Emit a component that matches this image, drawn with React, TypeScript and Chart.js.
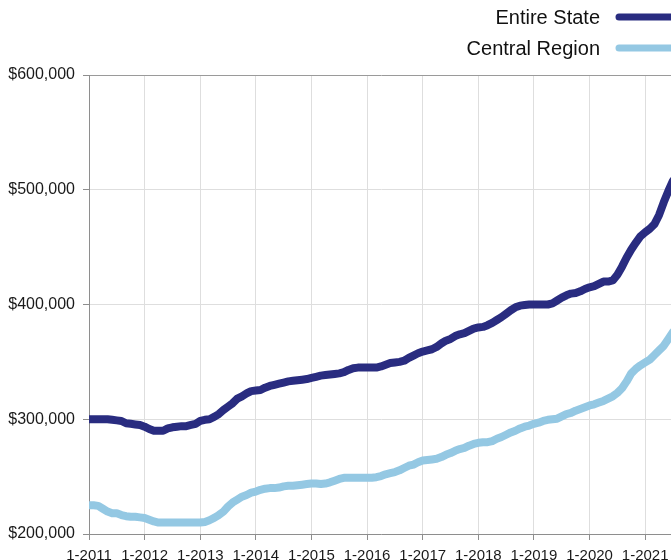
import React, { useEffect, useRef } from "react";
import { Chart, registerables } from "chart.js";

Chart.register(...registerables);

const startYear = 2011;

const seriesLabels = ["Entire State", "Central Region"];

// Monthly median values (thousands of $), Jan 2011 .. Jul 2021
const entireState = [
  300, 300, 300, 300, 300, 299.5, 299, 298.5, 296.5, 296, 295.5, 295,
  293.5, 291.5, 290, 290, 290, 292, 293, 293.5, 294, 294, 295, 296,
  298.5, 299.5, 300, 302, 304.5, 308, 311, 314, 318, 320, 322.5, 324.5,
  325, 325.5, 327.5, 329, 330, 331, 332, 333, 333.5, 334, 334.5, 335,
  336, 337, 338, 338.5, 339, 339.5, 340, 341, 343, 344.5, 345, 345,
  345, 345, 345, 346, 347.5, 349, 349.5, 350, 351, 353.5, 355.5, 357.5,
  359, 360, 361, 363, 366, 368.5, 370, 372.5, 374, 375, 377, 379,
  380, 380.5, 382, 384, 386.5, 389, 392, 395, 397.5, 399, 399.5, 400,
  400, 400, 400, 400, 401, 403.5, 406, 408, 409.5, 410, 411.5, 413.5,
  415, 416, 418, 420, 420, 421, 426, 433, 441, 448, 454, 459.5,
  463, 466, 470, 478, 489, 499, 508,
];

const centralRegion = [
  225, 225, 224.5, 222, 219.5, 218, 218, 216.5, 215.5, 215, 215, 214.5,
  214, 212.5, 211, 210, 210, 210, 210, 210, 210, 210, 210, 210,
  210, 210.5, 212, 214, 216.5, 219.5, 224, 227.5, 230, 232.5, 234, 236,
  237, 238.5, 239.5, 240, 240, 240.5, 241.5, 242, 242, 242.5, 243, 243.5,
  244, 244, 243.5, 244, 245, 246.5, 248, 249, 249, 249, 249, 249,
  249, 249, 249.5, 250.5, 252, 253, 254, 255.5, 257.5, 259.5, 260.5, 262.5,
  264, 264.5, 265, 265.5, 267, 269, 270.5, 272.5, 274, 275, 277, 278.5,
  279.5, 280, 280, 281, 283, 284.5, 286.5, 288.5, 290, 292, 293.5, 294.5,
  296, 297, 298.5, 299.5, 300, 300.5, 302.5, 304.5, 305.5, 307.5, 309, 310.5,
  312, 313, 314.5, 316, 318, 320, 323, 327, 333, 340, 344, 347,
  349.5, 352, 356, 360, 364, 370, 376,
];

const yTicks = [200000, 300000, 400000, 500000, 600000];

const colors = ["#292c80", "#94c8e3"];
const FONT = 'Helvetica, Arial, "Liberation Sans", sans-serif';

const legendPlugin = {
  id: "customLegend",
  afterDraw(chart: any) {
    const ctx = chart.ctx;
    ctx.save();
    ctx.font = `20px ${FONT}`;
    ctx.textAlign = "right";
    ctx.textBaseline = "middle";
    const rows = [17, 48];
    chart.data.datasets.forEach((ds: any, i: number) => {
      const y = rows[i];
      ctx.fillStyle = "#111";
      ctx.fillText(ds.label, 600, y + 1);
      ctx.strokeStyle = ds.borderColor;
      ctx.lineWidth = 7;
      ctx.lineCap = "round";
      ctx.beginPath();
      ctx.moveTo(619, y);
      ctx.lineTo(700, y);
      ctx.stroke();
    });
    ctx.restore();
  },
};

export default function App() {
  const ref = useRef<HTMLCanvasElement | null>(null);

  useEffect(() => {
    if (!ref.current) return;
    const toPoints = (arr: number[]) => arr.map((v, i) => ({ x: i, y: v * 1000 }));
    const lineStyle = {
      borderWidth: 8,
      pointRadius: 0,
      tension: 0,
      borderCapStyle: "round",
      borderJoinStyle: "round",
    };
    const chart = new Chart(ref.current, {
      type: "line",
      data: {
        datasets: [
          {
            label: seriesLabels[0],
            data: toPoints(entireState),
            borderColor: colors[0],
            backgroundColor: colors[0],
            ...lineStyle,
          },
          {
            label: seriesLabels[1],
            data: toPoints(centralRegion),
            borderColor: colors[1],
            backgroundColor: colors[1],
            ...lineStyle,
          },
        ],
      },
      options: {
        animation: false,
        responsive: false,
        devicePixelRatio: 1,
        layout: { padding: { top: 75, right: 17, left: 0, bottom: 0 } },
        plugins: { legend: { display: false }, tooltip: { enabled: false } },
        scales: {
          x: {
            type: "linear",
            min: 0,
            max: entireState.length - 1,
            ticks: {
              stepSize: 12,
              includeBounds: false,
              autoSkip: false,
              maxRotation: 0,
              padding: 7,
              color: "#1a1a1a",
              font: { size: 15, family: FONT },
              callback: (v: any) => "1-" + (startYear + Math.round(Number(v) / 12)),
            },
            grid: { color: "#dedede", lineWidth: 1, tickLength: 6, tickColor: "#8e8e8e" },
            border: { color: "#8e8e8e", width: 1 },
            afterFit: (scale: any) => {
              scale.height = 46;
            },
          },
          y: {
            min: yTicks[0],
            max: yTicks[yTicks.length - 1],
            afterBuildTicks: (scale: any) => {
              scale.ticks = yTicks.map((v) => ({ value: v }));
            },
            ticks: {
              padding: 8,
              color: "#1a1a1a",
              font: { size: 16, family: FONT },
              callback: (v: any) => "$" + Number(v).toLocaleString("en-US"),
            },
            grid: {
              color: (c: any) => (c.tick && c.tick.value === 600000 ? "#9a9a9a" : "#dedede"),
              lineWidth: 1,
              tickLength: 6,
              tickColor: "#8e8e8e",
            },
            border: { color: "#8e8e8e", width: 1 },
            afterFit: (scale: any) => {
              scale.width = 89;
            },
          },
        },
      },
      plugins: [legendPlugin],
    } as any);
    return () => chart.destroy();
  }, []);

  return (
    <div
      style={{
        position: "fixed",
        left: 0,
        top: 0,
        width: 671,
        height: 560,
        overflow: "hidden",
        background: "#fff",
      }}
    >
      <canvas ref={ref} width={690} height={580} style={{ display: "block" }} />
    </div>
  );
}
